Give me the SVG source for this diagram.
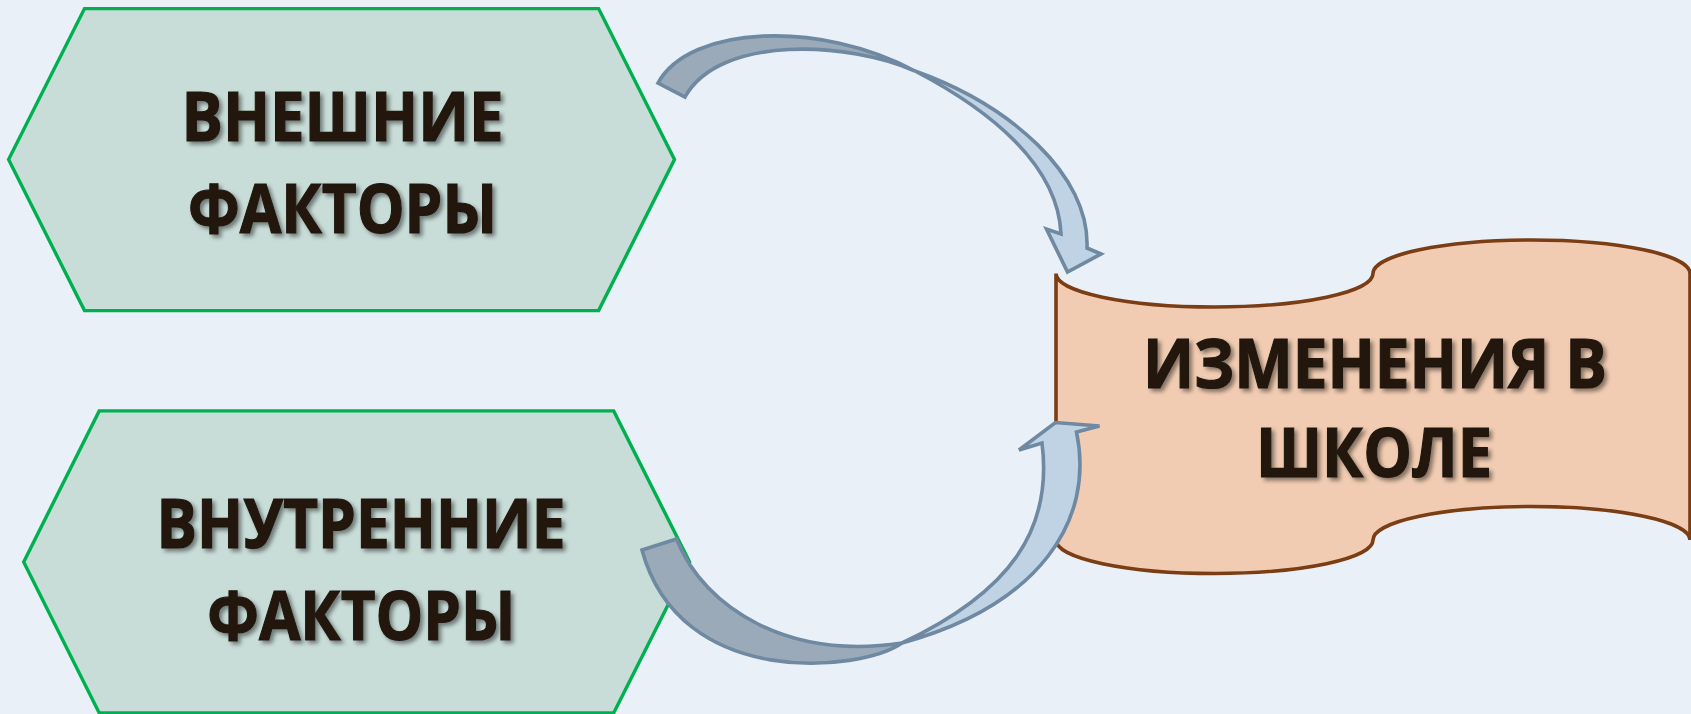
<svg xmlns="http://www.w3.org/2000/svg" width="1691" height="714" viewBox="0 0 1691 714">
  <defs>
    <style>
      .hex { fill: #C9DDD8; stroke: #00B050; stroke-width: 3.4; stroke-linejoin: miter; }
      .scroll { fill: #F1CCB2; stroke: #7A3D14; stroke-width: 3.6; }
      .lbl { font-family: "Open Sans", "Noto Sans", "DejaVu Sans", sans-serif; font-weight: 700; font-size: 68px; fill: #201810; stroke: #201810; stroke-width: 1.2; text-anchor: middle; filter: url(#shadow); }
      .arr-back { fill: #9AAAB8; stroke: #6E89A1; stroke-width: 3.6; stroke-linejoin: miter; }
      .arr-front { fill: #BFD3E4; stroke: #6E89A1; stroke-width: 3.6; stroke-linejoin: miter; }
    </style>
    <filter id="shadow" x="-10%" y="-20%" width="130%" height="150%">
      <feDropShadow dx="3" dy="3" stdDeviation="2" flood-color="#000000" flood-opacity="0.45"/>
    </filter>
  </defs>

  <rect x="0" y="0" width="1691" height="714" fill="#EAF0F7"/>

  <g id="node-external">
    <polygon class="hex" points="8.6,159.6 84.5,8.6 598.6,8.6 674.5,159.6 598.6,310.6 84.5,310.6"/>
    <text class="lbl" x="342.5" y="140.7" textLength="322" lengthAdjust="spacingAndGlyphs">ВНЕШНИЕ</text>
    <text class="lbl" x="342.5" y="233.3" textLength="309" lengthAdjust="spacingAndGlyphs">ФАКТОРЫ</text>
  </g>

  <g id="node-internal">
    <polygon class="hex" points="23.7,561.9 99.2,410.9 613.7,410.9 689.6,561.9 613.7,712.9 99.2,712.9"/>
    <text class="lbl" x="361" y="548.3" textLength="409" lengthAdjust="spacingAndGlyphs">ВНУТРЕННИЕ</text>
    <text class="lbl" x="361.3" y="640" textLength="308" lengthAdjust="spacingAndGlyphs">ФАКТОРЫ</text>
  </g>

  <g id="node-changes">
    <path class="scroll" d="M1056,273.5 A158.5,33.5 0 0 0 1373,273.5 A158.5,33.5 0 0 1 1690,273.5 L1690,540 A158.5,33.5 0 0 0 1373,540 A158.5,33.5 0 0 1 1056,540 Z"/>
    <text class="lbl" x="1375" y="388.3" textLength="464" lengthAdjust="spacingAndGlyphs">ИЗМЕНЕНИЯ В</text>
    <text class="lbl" x="1374" y="477.3" textLength="236" lengthAdjust="spacingAndGlyphs">ШКОЛЕ</text>
  </g>

  <g id="connectors">
    <g id="arrow-external">
      <path class="arr-front" d="M915,71 C1010,105 1090,175 1087,248 L1101,254 L1067.5,272 L1046.5,229 L1061,234 C1058,165 990,110 915,71 Z"/>
      <path class="arr-back" d="M658,83 C690,25 820,20 915,71 C850,42 720,34 685,97 Z"/>
    </g>
    <g id="arrow-internal">
      <path class="arr-front" d="M902,643 C1040,605 1095,520 1076.5,432 L1099.5,426 L1055.5,422.5 L1019,450 L1042,443 C1053,530 1010,592 902,643 Z"/>
      <path class="arr-back" d="M642,550 L676.5,539 C705,610 790,660 902,643 C860,672 680,690 642,550 Z"/>
    </g>
  </g>
</svg>
